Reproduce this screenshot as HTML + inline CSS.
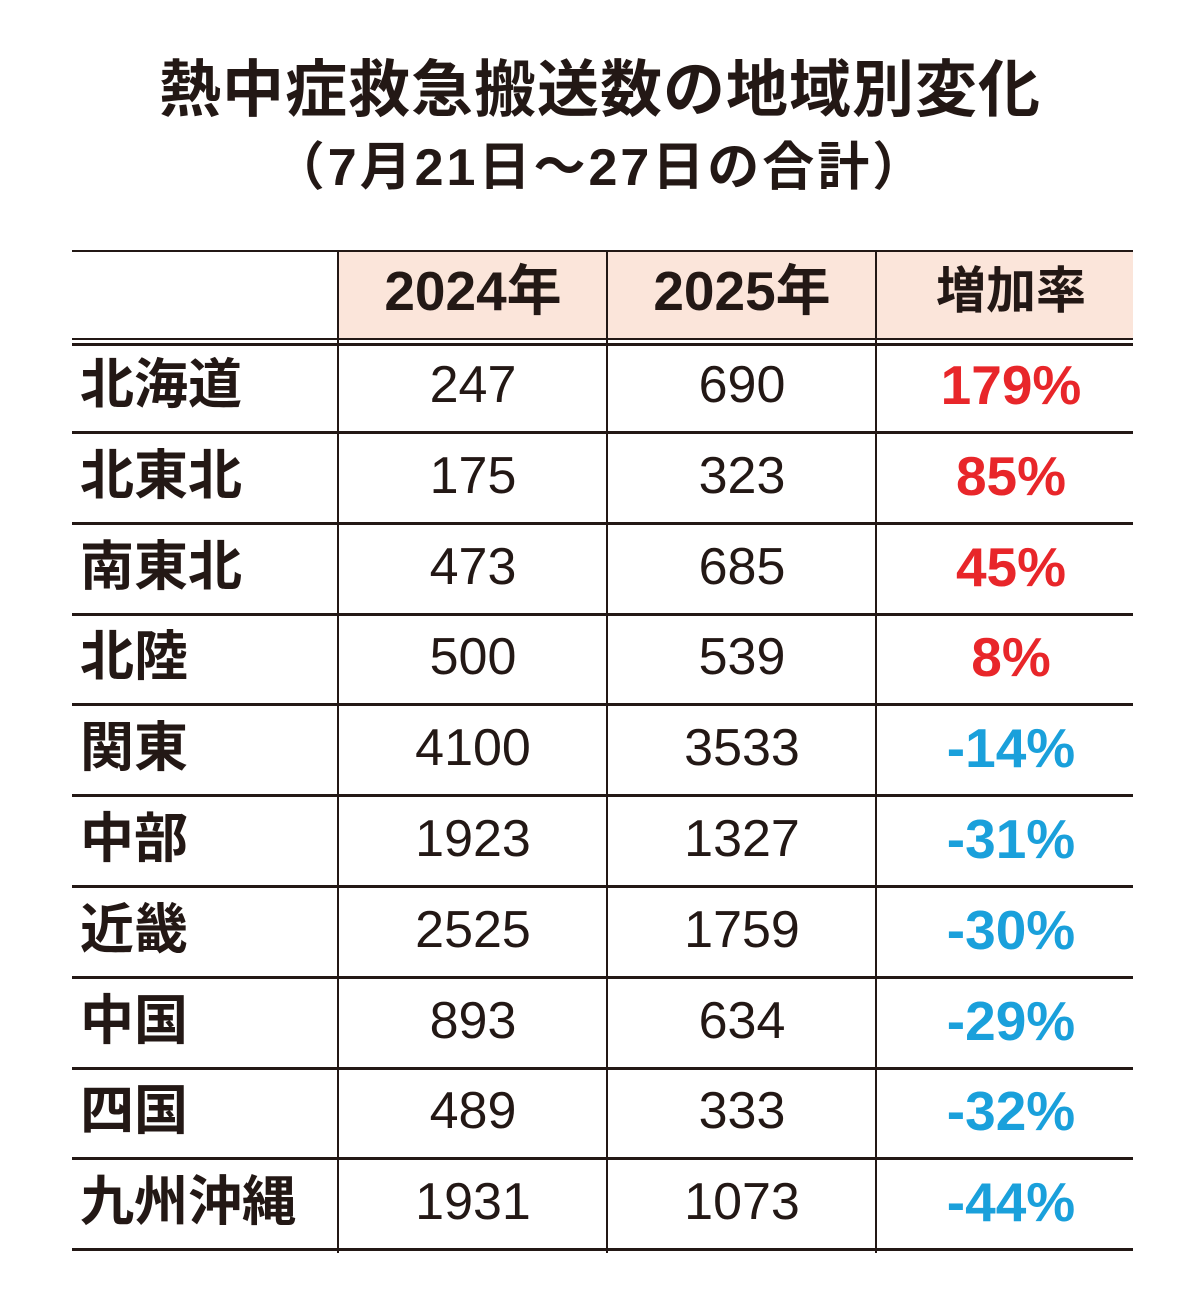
<!DOCTYPE html><html><head><meta charset="utf-8"><style>
body{margin:0;width:1200px;height:1313px;background:#fff;position:relative;font-family:"Liberation Sans","Noto Sans CJK JP",sans-serif;color:#231815;overflow:hidden}
.t{position:absolute;left:0;width:1200px;text-align:center;font-weight:bold}
.h{position:absolute;background:#231815}
.c{position:absolute;text-align:center;line-height:82px;font-size:52px}
.l{position:absolute;left:80px;line-height:82px;font-size:54px;font-weight:bold}
.r{color:#e8262a;font-weight:bold;font-size:55px}.b{color:#1aa0db;font-weight:bold;font-size:55px}
</style></head><body>
<div class="t" style="top:55px;font-size:62px;line-height:72px;letter-spacing:1px">熱中症救急搬送数の地域別変化</div>
<div class="t" style="top:136px;font-size:52px;line-height:64px;letter-spacing:3px">（7月21日～27日の合計）</div>
<div style="position:absolute;left:339px;top:252px;width:794px;height:87px;background:#fbe5da"></div>
<div class="h" style="left:72px;top:250px;width:1061px;height:2px"></div>
<div class="h" style="left:72px;top:338px;width:1061px;height:2px"></div>
<div class="h" style="left:72px;top:343px;width:1061px;height:3px"></div>
<div class="h" style="left:337px;top:250px;width:2px;height:1003px"></div>
<div class="h" style="left:606px;top:250px;width:2px;height:1003px"></div>
<div class="h" style="left:875px;top:250px;width:2px;height:1003px"></div>
<div class="c" style="left:339px;top:250px;width:268px;font-weight:bold;font-size:55px">2024年</div>
<div class="c" style="left:608px;top:250px;width:268px;font-weight:bold;font-size:55px">2025年</div>
<div class="c" style="left:877px;top:250px;width:268px;font-weight:bold;font-size:50px">増加率</div>
<div id="rows"></div>
<script>
var d=[["北海道",247,690,"179%","r"],["北東北",175,323,"85%","r"],["南東北",473,685,"45%","r"],["北陸",500,539,"8%","r"],["関東",4100,3533,"-14%","b"],["中部",1923,1327,"-31%","b"],["近畿",2525,1759,"-30%","b"],["中国",893,634,"-29%","b"],["四国",489,333,"-32%","b"],["九州沖縄",1931,1073,"-44%","b"]];
var h="";d.forEach(function(r,i){var y=344+i*90.8;
h+='<div class="l" style="top:'+y+'px">'+r[0]+'</div><div class="c" style="left:339px;top:'+y+'px;width:268px">'+r[1]+'</div><div class="c" style="left:608px;top:'+y+'px;width:268px">'+r[2]+'</div><div class="c '+r[4]+'" style="left:877px;top:'+y+'px;width:268px">'+r[3]+'</div><div class="h" style="left:72px;top:'+(y+87)+'px;width:1061px;height:3px"></div>';});
document.getElementById("rows").innerHTML=h;
</script>
</body></html>
